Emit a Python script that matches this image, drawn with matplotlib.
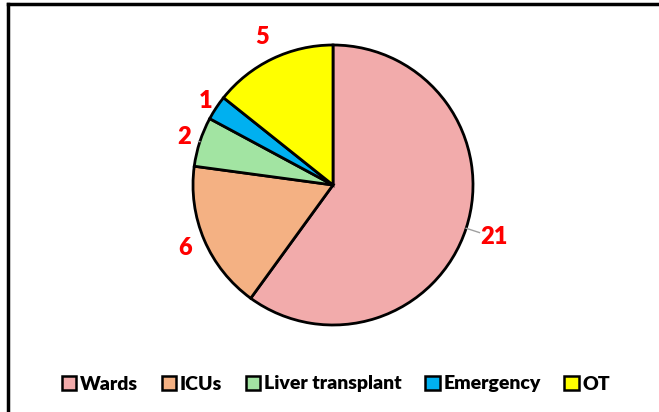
import numpy as np
import matplotlib.pyplot as plt
from matplotlib.lines import Line2D
from matplotlib.patches import Patch

labels = ["Wards", "ICUs", "Liver transplant", "Emergency", "OT"]
values = [21, 6, 2, 1, 5]
colors = ["#F2ABAB", "#F4B183", "#A2E4A2", "#00B0F0", "#FFFF00"]
# distance of each count label from centre (in radii)
label_dist = [1.21, 1.15, 1.12, 1.09, 1.17]

plt.rcParams["font.family"] = ["Lato", "DejaVu Sans"]

fig = plt.figure(figsize=(6.59, 4.12), dpi=100)
W, H = 659, 412
ax = fig.add_axes([193 / W, 87 / H, 280 / W, 280 / H])

wedges, _ = ax.pie(values, colors=colors, startangle=90, counterclock=False,
                   radius=1, wedgeprops=dict(edgecolor="black", linewidth=2))
ax.set_xlim(-1, 1)
ax.set_ylim(-1, 1)

total = sum(values)
start = 90
for i, v in enumerate(values):
    mid = np.deg2rad(start - v / total * 360 / 2)
    start -= v / total * 360
    d = label_dist[i]
    ax.text(d * np.cos(mid), d * np.sin(mid), str(v), color="red",
            fontsize=17, fontweight="heavy", ha="center", va="center")
    if v in (21, 2):
        # short grey leader line
        r0, r1 = 1.0, d - 0.11
        ax.plot([r0 * np.cos(mid), r1 * np.cos(mid)],
                [r0 * np.sin(mid), r1 * np.sin(mid)],
                color="#a0a0a0", lw=1, clip_on=False)

handles = [Patch(facecolor=c, edgecolor="black", linewidth=1.8) for c in colors]
fig.legend(handles, labels, loc="center", bbox_to_anchor=(336 / W, 1 - 384 / H),
           ncol=5, frameon=False, handlelength=0.75, handleheight=0.75,
           handletextpad=0.2, columnspacing=1.2,
           prop=dict(size=14, weight="heavy"))

# chart frame (left and top edges visible)
fig.add_artist(Line2D([7.5 / W, 7.5 / W], [0, 1 - 4 / H], color="black", lw=2.5,
                      transform=fig.transFigure))
fig.add_artist(Line2D([7.5 / W, 1], [1 - 4 / H, 1 - 4 / H], color="black", lw=2.5,
                      transform=fig.transFigure))

fig.savefig("out.png", dpi=100)
